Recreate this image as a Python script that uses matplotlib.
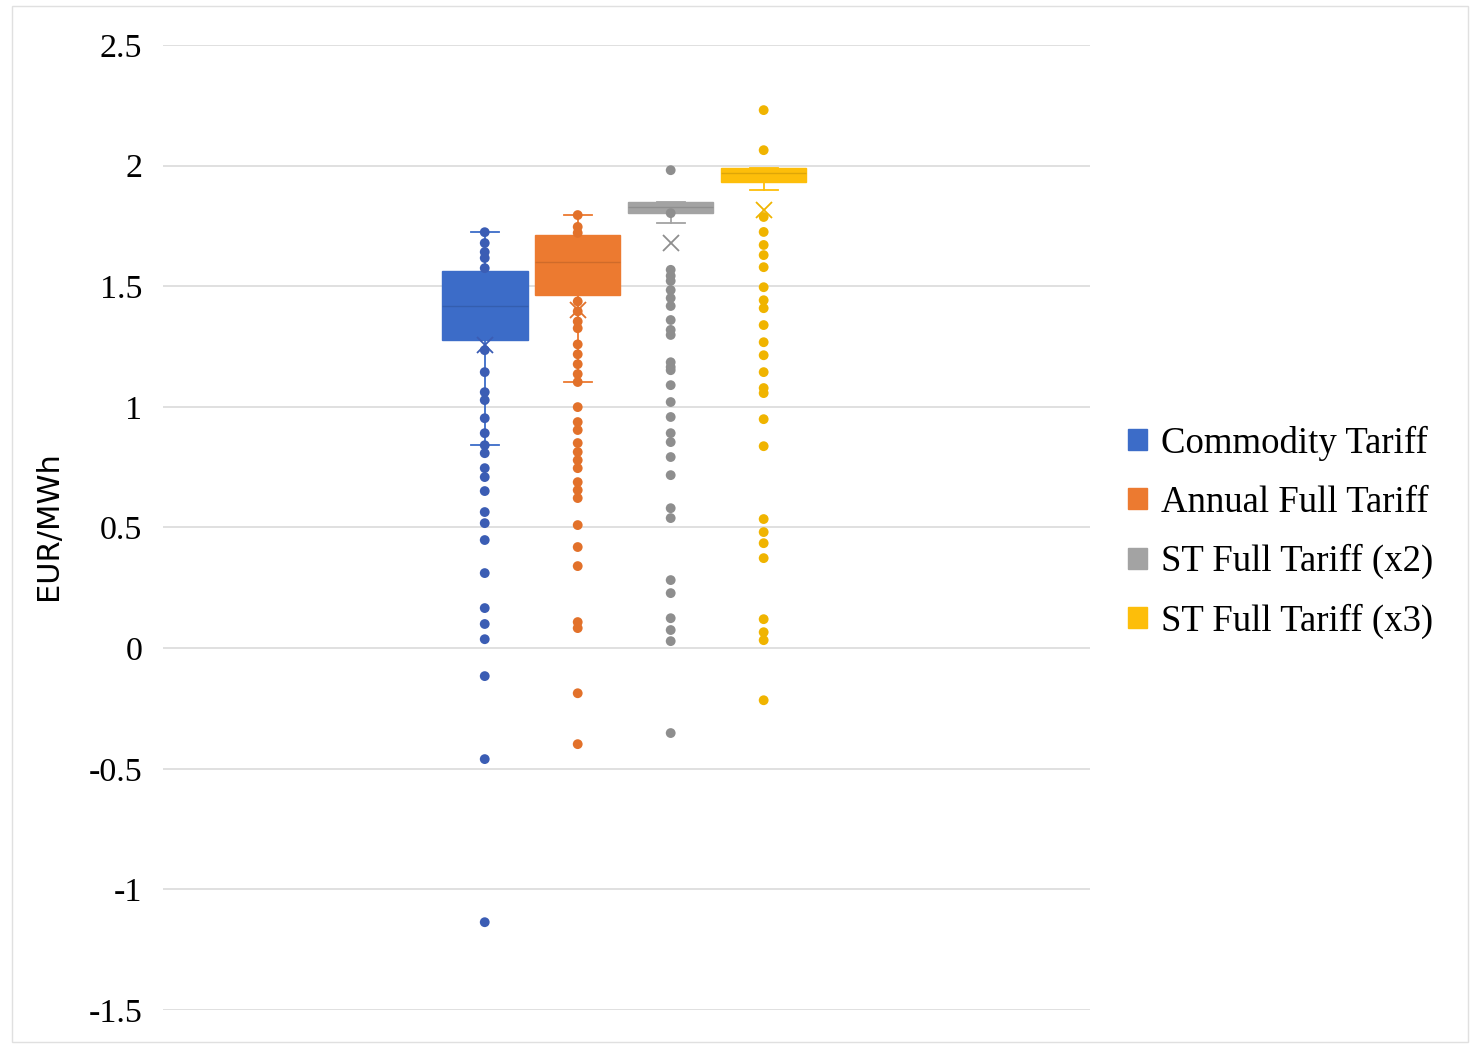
import matplotlib.pyplot as plt
import matplotlib.patches as mpatches
import numpy as np

# series names and colours
names = ['Commodity Tariff', 'Annual Full Tariff', 'ST Full Tariff (x2)', 'ST Full Tariff (x3)']
box_colors = ['#3C6CC8', '#EC7A30', '#A3A3A3', '#FDBE0A']
dot_colors = ['#3B5DB4', '#E2712A', '#8E8E8E', '#F0B400']

# box statistics (EUR/MWh)
q1 = [1.277, 1.463, 1.803, 1.932]
med = [1.418, 1.600, 1.828, 1.969]
q3 = [1.563, 1.712, 1.849, 1.990]
whislo = [0.841, 1.103, 1.762, 1.898]
whishi = [1.724, 1.795, 1.849, 1.990]
means = [1.256, 1.400, 1.679, 1.816]

# individual points (inner points + outliers)
pts_commodity = [1.724, 1.679, 1.642, 1.617, 1.575, 1.235, 1.144, 1.061, 1.028, 0.953,
                 0.891, 0.841, 0.808, 0.746, 0.709, 0.651, 0.564, 0.518, 0.448, 0.311,
                 0.166, 0.100, 0.037, -0.116, -0.460, -1.136]
pts_annual = [1.795, 1.746, 1.721, 1.437, 1.396, 1.354, 1.326, 1.259, 1.218, 1.177,
              1.136, 1.103, 0.999, 0.937, 0.904, 0.850, 0.813, 0.779, 0.746, 0.688,
              0.655, 0.622, 0.510, 0.419, 0.340, 0.108, 0.083, -0.187, -0.398]
pts_st2 = [1.981, 1.803, 1.568, 1.543, 1.522, 1.484, 1.451, 1.418, 1.360, 1.319,
           1.298, 1.185, 1.165, 1.152, 1.090, 1.020, 0.958, 0.891, 0.854, 0.792,
           0.717, 0.580, 0.539, 0.282, 0.228, 0.124, 0.075, 0.029, -0.352]
pts_st3 = [2.230, 2.064, 1.787, 1.725, 1.671, 1.629, 1.579, 1.496, 1.442, 1.409,
           1.339, 1.268, 1.214, 1.144, 1.078, 1.057, 0.949, 0.837, 0.535, 0.481,
           0.435, 0.373, 0.120, 0.066, 0.033, -0.216]
points = [pts_commodity, pts_annual, pts_st2, pts_st3]

yticks = [2.5, 2, 1.5, 1, 0.5, 0, -0.5, -1, -1.5]
ytick_labels = ['2.5', '2', '1.5', '1', '0.5', '0', '-0.5', '-1', '-1.5']

fig = plt.figure(figsize=(14.74, 10.46), dpi=100)
ax = fig.add_axes([0.1106, 0.0344, 0.6289, 0.9226])

positions = [1, 2, 3, 4]
ax.set_axisbelow(True)
ax.grid(axis='y', color='#DADADA', linewidth=1.2)

for i in range(4):
    stats = [dict(med=med[i], q1=q1[i], q3=q3[i], whislo=whislo[i], whishi=whishi[i],
                  mean=means[i], fliers=[])]
    ax.bxp(stats, positions=[positions[i]], widths=0.92, capwidths=0.3,
           showmeans=True, patch_artist=True, showfliers=False,
           boxprops=dict(facecolor=box_colors[i], edgecolor=box_colors[i], linewidth=1),
           medianprops=dict(color='#000000', alpha=0.12, linewidth=1),
           whiskerprops=dict(color=box_colors[i], linewidth=1.3),
           capprops=dict(color=box_colors[i], linewidth=1.3),
           meanprops=dict(marker='x', markeredgecolor=dot_colors[i], markersize=11,
                          markeredgewidth=1.3))
    ax.scatter(np.full(len(points[i]), positions[i]), points[i], s=50,
               color=dot_colors[i], zorder=3, edgecolors='none')

ax.set_xlim(-2.46, 7.51)
ax.set_ylim(-1.5, 2.5)
ax.set_xticks([])
ax.set_yticks(yticks)
ax.set_yticklabels(ytick_labels, fontfamily='Liberation Serif', fontsize=24.5)
ax.tick_params(axis='y', length=0, pad=15)
for s in ax.spines.values():
    s.set_visible(False)

fig.text(0.033, 0.498, 'EUR/MWh', rotation=90, ha='center', va='center',
         fontsize=22, fontfamily='DejaVu Sans')

handles = [mpatches.Patch(facecolor=c, edgecolor=c) for c in box_colors]
leg = fig.legend(handles, names, loc='center left', bbox_to_anchor=(0.748, 0.491),
                 frameon=False, prop=dict(family='Liberation Serif', size=26.5),
                 handlelength=0.5, handleheight=0.5, handletextpad=0.4, labelspacing=0.66,
                 borderpad=0.2)

# faint frame around the whole picture
fig.patches.append(mpatches.Rectangle((0.008, 0.004), 0.988, 0.99, transform=fig.transFigure,
                                      fill=False, edgecolor='#E0E0E0', linewidth=1))

fig.savefig('out.png', dpi=100)
